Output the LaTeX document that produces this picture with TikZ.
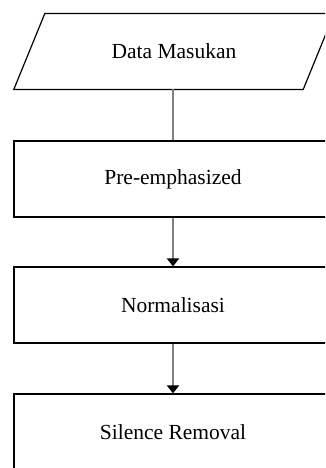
\documentclass[tikz,border=0pt]{standalone}
\usepackage{fontspec}
\setmainfont{Liberation Serif}
\usetikzlibrary{arrows.meta}
\begin{document}
\begin{tikzpicture}[x=1pt,y=-1pt,
  every node/.style={font=\fontsize{21.5}{25}\selectfont},
  procbox/.style={draw=black,line width=1.2pt,minimum width=318pt,minimum height=76pt,inner sep=0pt},
  iotext/.style={minimum width=289pt,minimum height=75.5pt,inner sep=0pt},
  iofrm/.style={draw=black,line width=1.2pt,line join=miter},
  link/.style={draw=black!50,line width=2pt},
  flow/.style={link,-{Triangle[width=12pt,length=8pt,fill=black,color=black]}}]
\useasboundingbox (0,0) rectangle (325,468);
\clip (0,0) rectangle (325,468);
\fill[white] (0,0) rectangle (325,468);
% input/output parallelogram: text node plus slanted frame
\node[iotext] (masukan) at (174,51.5) {Data Masukan};
\draw[iofrm] ([xshift=-15.5pt]masukan.south west) -- ([xshift=-15.5pt]masukan.south east)
  -- ([xshift=15.5pt]masukan.north east) -- ([xshift=15.5pt]masukan.north west) -- cycle;
% process steps
\node[procbox] (pre) at (173,179) {Pre-emphasized};
\node[procbox] (norm) at (173,305) {Normalisasi};
\node[procbox] (silence) at (173,432) {Silence Removal};
% connectors
\draw[link] (masukan.south -| pre.north) -- (pre.north);
\draw[flow] (pre.south) -- (norm.north);
\draw[flow] (norm.south) -- (silence.north);
\end{tikzpicture}
\end{document}
